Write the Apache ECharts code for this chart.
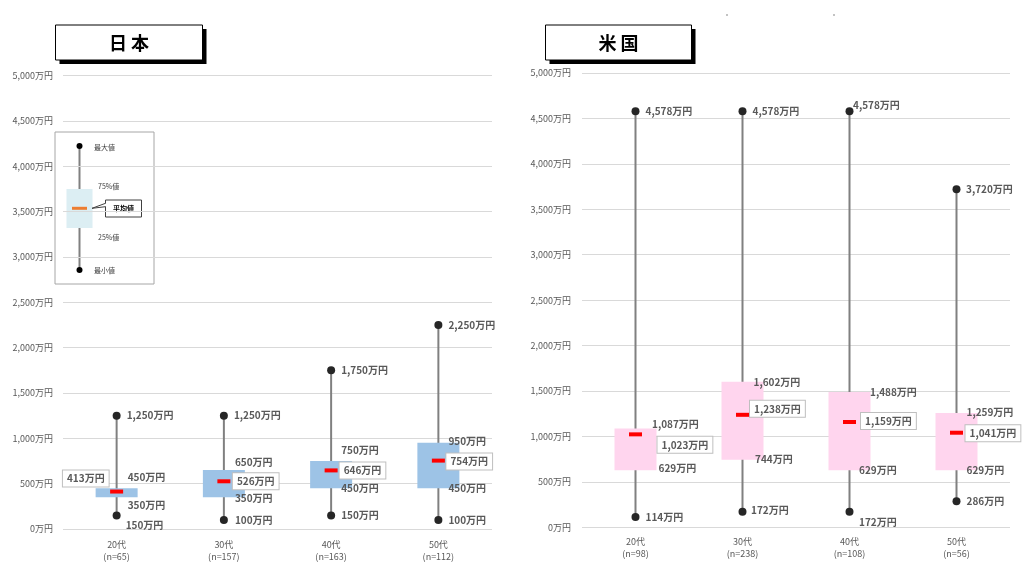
<!DOCTYPE html>
<html>
<head>
<meta charset="utf-8">
<script src="https://cdn.jsdelivr.net/npm/echarts@6/dist/echarts.min.js"></script>
<style>
html,body{margin:0;padding:0;background:#fff;}
#chart{width:1024px;height:576px;}
</style>
</head>
<body>
<div id="chart"></div>
<script>
// ---- data ----
const ageGroups = ['20代', '30代', '40代', '50代'];
const yTicks = [0, 500, 1000, 1500, 2000, 2500, 3000, 3500, 4000, 4500, 5000];

const jpN    = [65, 157, 163, 112];
const jpMin  = [150, 100, 150, 100];
const jpQ1   = [350, 350, 450, 450];
const jpQ3   = [450, 650, 750, 950];
const jpMax  = [1250, 1250, 1750, 2250];
const jpMean = [413, 526, 646, 754];

const usN    = [98, 238, 108, 56];
const usMin  = [114, 172, 172, 286];
const usQ1   = [629, 744, 629, 629];
const usQ3   = [1087, 1602, 1488, 1259];
const usMax  = [4578, 4578, 4578, 3720];
const usMean = [1023, 1238, 1159, 1041];

// ---- styles (label offsets in px relative to category centre / value) ----
const jpLabelOffsets = [
  {max:[10,0], q3:[11,-11], q1:[11,8], min:[9,10], mean:[-8,-13,'right']},
  {max:[10,0], q3:[11,-8], q1:[11,1], min:[11,0], mean:[9,0,'left']},
  {max:[10,0], q3:[10,-11], q1:[10,0], min:[10,0], mean:[8.5,0,'left']},
  {max:[10,0], q3:[10,-2], q1:[10,0], min:[10,0], mean:[8,1,'left']}
];
const usLabelOffsets = [
  {max:[10,0], q3:[16.5,-4.5], q1:[23,-1.5], min:[10,0], mean:[22,10.5,'left']},
  {max:[10,0], q3:[11,0], q1:[12.5,0], min:[8.5,-1.5], mean:[7.5,-6,'left']},
  {max:[3.5,-6], q3:[20.5,0], q1:[9.5,0], min:[9.5,11], mean:[11.5,-1,'left']},
  {max:[9.5,0], q3:[10,-1], q1:[10,0], min:[10,0], mean:[9,0.5,'left']}
];

const FONT = '"Noto Sans CJK JP", "Noto Sans", sans-serif';
const fmt = v => v.toLocaleString('en-US') + '万円';

function buildData(mins, q1s, q3s, maxs, means) {
  return ageGroups.map((g, i) => [i, mins[i], q1s[i], q3s[i], maxs[i], means[i]]);
}
function catLabels(ns) {
  return ageGroups.map((g, i) => g + '\n(n=' + ns[i] + ')');
}

function makeRender(boxColor, offsets) {
  return function (params, api) {
    const i = api.value(0);
    const vals = {min: api.value(1), q1: api.value(2), q3: api.value(3), max: api.value(4), mean: api.value(5)};
    const x = api.coord([i, 0])[0];
    const y = {};
    for (const k in vals) y[k] = api.coord([i, vals[k]])[1];
    const boxW = 42;
    const off = offsets[i];
    const children = [
      {type: 'line', shape: {x1: x, y1: y.min, x2: x, y2: y.max}, style: {stroke: '#808080', lineWidth: 2}},
      {type: 'rect', shape: {x: x - boxW / 2, y: y.q3, width: boxW, height: y.q1 - y.q3}, style: {fill: boxColor}},
      {type: 'circle', shape: {cx: x, cy: y.max, r: 4}, style: {fill: '#262626'}},
      {type: 'circle', shape: {cx: x, cy: y.min, r: 4}, style: {fill: '#262626'}},
      {type: 'rect', shape: {x: x - 6.5, y: y.mean - 2, width: 13, height: 4}, style: {fill: '#FF0000'}}
    ];
    ['max', 'q3', 'q1', 'min'].forEach(k => {
      children.push({
        type: 'text',
        style: {
          text: fmt(vals[k]), x: x + off[k][0], y: y[k] + off[k][1],
          align: 'left', verticalAlign: 'middle',
          font: 'bold 10px ' + FONT, fill: '#595959'
        },
        z2: 10
      });
    });
    const m = off.mean;
    children.push({
      type: 'text',
      style: {
        text: fmt(vals.mean), x: x + m[0], y: y.mean + m[1],
        align: m[2], verticalAlign: 'middle',
        font: 'bold 10px ' + FONT, fill: '#595959',
        backgroundColor: '#fff', borderColor: '#BFBFBF', borderWidth: 1,
        padding: [3, 4, 3, 4]
      },
      z2: 11
    });
    return {type: 'group', children: children};
  };
}

function yAxisOpt(gridIndex, margin) {
  return {
    type: 'value', gridIndex: gridIndex, min: yTicks[0], max: yTicks[yTicks.length - 1], interval: 500,
    axisLine: {show: false}, axisTick: {show: false},
    axisLabel: {formatter: fmt, fontSize: 9, color: '#595959', fontFamily: FONT, margin: margin},
    splitLine: {lineStyle: {color: '#D9D9D9', width: 1}}
  };
}
function xAxisOpt(gridIndex, ns, margin) {
  return {
    type: 'category', gridIndex: gridIndex, data: catLabels(ns),
    axisLine: {show: false}, axisTick: {show: false},
    axisLabel: {fontSize: 9, color: '#595959', fontFamily: FONT, lineHeight: 12, margin: margin},
    splitLine: {show: false}
  };
}

function titleBox(x, y, w, h, text) {
  return {
    type: 'group',
    children: [
      {type: 'rect', shape: {x: x + 4, y: y + 4, width: w, height: h}, style: {fill: '#000'}},
      {type: 'rect', shape: {x: x, y: y, width: w, height: h}, style: {fill: '#fff', stroke: '#000', lineWidth: 1}},
      {type: 'text', style: {text: text, x: x + w / 2, y: y + h / 2 + 1, align: 'center', verticalAlign: 'middle',
        font: 'bold 18px ' + FONT, fill: '#000'}}
    ]
  };
}

const legendFont = '7px ' + FONT;
const legendGraphic = {
  type: 'group',
  children: [
    {type: 'rect', shape: {x: 55, y: 132, width: 99, height: 152}, style: {fill: '#fff', stroke: '#A6A6A6', lineWidth: 1}},
    {type: 'line', shape: {x1: 79.5, y1: 146, x2: 79.5, y2: 270}, style: {stroke: '#808080', lineWidth: 2}},
    {type: 'circle', shape: {cx: 79.5, cy: 146, r: 3}, style: {fill: '#000'}},
    {type: 'circle', shape: {cx: 79.5, cy: 270, r: 3}, style: {fill: '#000'}},
    {type: 'rect', shape: {x: 66.5, y: 189, width: 26, height: 39}, style: {fill: '#DCEEF3'}},
    {type: 'line', shape: {x1: 72, y1: 208.3, x2: 87, y2: 208.3}, style: {stroke: '#ED7D31', lineWidth: 3}},
    {type: 'rect', shape: {x: 105.5, y: 200, width: 36, height: 17}, style: {fill: '#fff', stroke: '#404040', lineWidth: 1}},
    {type: 'line', shape: {x1: 105.5, y1: 203.5, x2: 105.5, y2: 206.5}, style: {stroke: '#fff', lineWidth: 2}},
    {type: 'polyline', shape: {points: [[105.5, 203.3], [92, 208.3], [105.5, 206.7]]}, style: {stroke: '#404040', lineWidth: 1, fill: null}},
    {type: 'text', style: {text: '平均値', x: 123.5, y: 208.5, align: 'center', verticalAlign: 'middle', font: 'bold 7px ' + FONT, fill: '#000'}},
    {type: 'text', style: {text: '最大値', x: 94, y: 147, align: 'left', verticalAlign: 'middle', font: legendFont, fill: '#404040'}},
    {type: 'text', style: {text: '75%値', x: 98, y: 186, align: 'left', verticalAlign: 'middle', font: legendFont, fill: '#404040'}},
    {type: 'text', style: {text: '25%値', x: 98, y: 237, align: 'left', verticalAlign: 'middle', font: legendFont, fill: '#404040'}},
    {type: 'text', style: {text: '最小値', x: 94, y: 270, align: 'left', verticalAlign: 'middle', font: legendFont, fill: '#404040'}}
  ]
};

const chart = echarts.init(document.getElementById('chart'), null, {renderer: 'canvas'});
chart.setOption({
  backgroundColor: '#fff',
  animation: false,
  grid: [
    {left: 63, top: 75.5, width: 429, height: 453.5},
    {left: 582, top: 73, width: 428, height: 454.3}
  ],
  xAxis: [xAxisOpt(0, jpN, 10), xAxisOpt(1, usN, 8)],
  yAxis: [yAxisOpt(0, 10), yAxisOpt(1, 11)],
  graphic: [
    titleBox(55.5, 25, 147, 35, '日 本'),
    titleBox(545.5, 25, 146, 35, '米 国'),
    legendGraphic,
    {type: 'circle', shape: {cx: 727, cy: 15, r: 0.8}, style: {fill: '#777'}},
    {type: 'circle', shape: {cx: 834, cy: 15, r: 0.8}, style: {fill: '#777'}}
  ],
  series: [
    {
      type: 'custom', name: '日本', xAxisIndex: 0, yAxisIndex: 0,
      renderItem: makeRender('#9DC3E6', jpLabelOffsets),
      encode: {x: 0, y: [1, 2, 3, 4, 5]},
      data: buildData(jpMin, jpQ1, jpQ3, jpMax, jpMean), z: 5
    },
    {
      type: 'custom', name: '米国', xAxisIndex: 1, yAxisIndex: 1,
      renderItem: makeRender('#FFD5EE', usLabelOffsets),
      encode: {x: 0, y: [1, 2, 3, 4, 5]},
      data: buildData(usMin, usQ1, usQ3, usMax, usMean), z: 5
    }
  ]
});
</script>
</body>
</html>
